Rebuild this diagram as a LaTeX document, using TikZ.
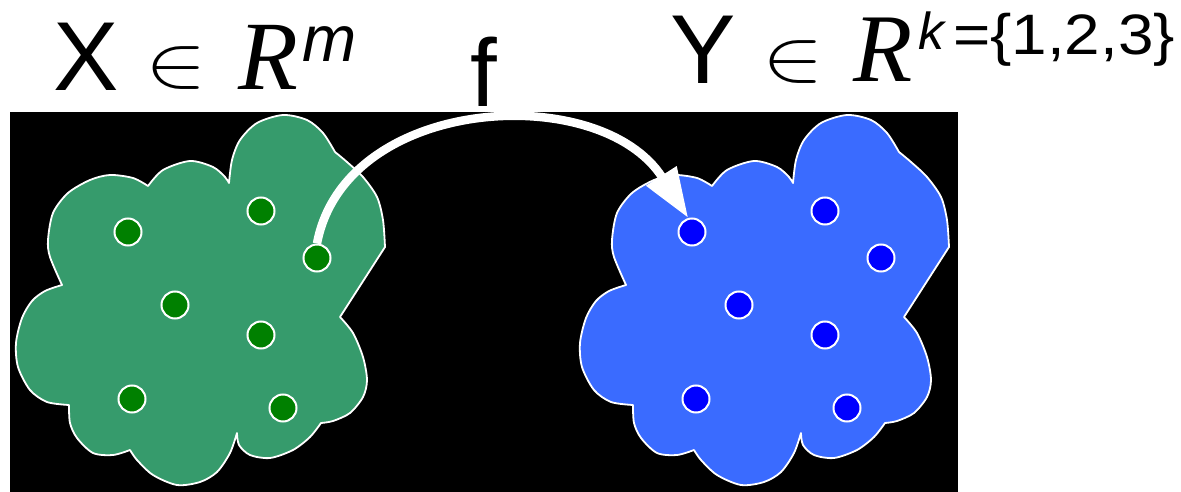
\documentclass[tikz,border=0pt]{standalone}
\usepackage{graphicx}
\usepackage{fontspec}
\setmainfont{Liberation Sans}
\newfontfamily\tnr{Liberation Serif}
\newfontfamily\arialwide[FakeStretch=1.12]{Liberation Sans}
\usetikzlibrary{arrows.meta}
\definecolor{cloudgreen}{HTML}{369B6C}
\definecolor{cloudblue}{HTML}{3A6BFF}
\definecolor{dotgreen}{HTML}{008000}
\definecolor{dotblue}{HTML}{0000FF}
\tikzset{
  lab/.style={inner sep=0pt, outer sep=0pt, text=black},
  cloudshape/.style={draw=white, line width=1.8pt, line join=round},
  gdot/.style={circle, fill=dotgreen, draw=white, line width=2pt, minimum size=27pt, inner sep=0pt},
  bdot/.style={circle, fill=dotblue, draw=white, line width=2pt, minimum size=27pt, inner sep=0pt},
  maparrow/.style={draw=white, line width=8.5pt, -{Triangle[length=50pt,width=34pt]}}
}
\newcommand{\bigelem}{\scalebox{3.7}[2.97]{\Huge$\in$}}
\def\mycloudpath{(229,183)
 -- plot[smooth] coordinates {(229,183) (232,160) (240,140) (257,123) (283,115) (307,120) (323,133) (335,152)}
 -- plot[smooth] coordinates {(335,152) (347,162) (363,177) (377,197) (383,220) (385,247)}
 -- (340,317)
 -- plot[smooth] coordinates {(340,317) (353,333) (363,357) (367,380) (363,397) (350,413) (333,421) (321,423)}
 -- plot[smooth] coordinates {(321,423) (310,437) (293,450) (270,458) (250,455) (239,445) (237,433)}
 -- plot[smooth] coordinates {(237,433) (230,453) (217,472) (200,482) (177,485) (153,475) (137,460) (130,450)}
 -- plot[smooth] coordinates {(130,450) (113,455) (93,453) (77,438) (70,423) (69,405)}
 -- plot[smooth] coordinates {(69,405) (47,402) (30,390) (18,367) (16,343) (22,318) (32,301) (45,291) (62,285)}
 -- plot[smooth] coordinates {(62,285) (50,257) (48,240) (53,213) (68,193) (90,180) (110,175) (133,178) (148,186)}
 -- plot[smooth] coordinates {(148,186) (163,170) (190,161) (213,167) (225,177) (229,183)}
 -- cycle}
\begin{document}
\begin{tikzpicture}[x=1pt,y=-1pt]
\useasboundingbox (0,0) rectangle (1181,492);
\fill[white] (0,0) rectangle (1181,492);
\fill[black] (10,112) rectangle (958,492);
% clouds
\path[cloudshape, fill=cloudgreen] \mycloudpath;
\begin{scope}[shift={(564,0)}]
\path[cloudshape, fill=cloudblue] \mycloudpath;
\end{scope}
% dots
\node[gdot] (g1) at (128,232) {};
\node[gdot] (g2) at (261,211) {};
\node[gdot] (g3) at (317,258) {};
\node[gdot] (g4) at (175,305) {};
\node[gdot] (g5) at (261,335) {};
\node[gdot] (g6) at (132,399) {};
\node[gdot] (g7) at (283,408) {};
\node[bdot] (b1) at (692,232) {};
\node[bdot] (b2) at (825,211) {};
\node[bdot] (b3) at (881,258) {};
\node[bdot] (b4) at (739,305) {};
\node[bdot] (b5) at (825,335) {};
\node[bdot] (b6) at (696,399) {};
\node[bdot] (b7) at (847,408) {};
% mapping arrow
\draw[maparrow] (g3.north) .. controls (345,95) and (600,80) .. (b1.105);
% labels
\node[lab, anchor=base west, font=\fontsize{98}{100}\selectfont] (tx) at (53,91) {X};
\node[lab] (tin1) at (176.5,68.5) {\bigelem};
\node[lab, anchor=base west, font=\tnr\itshape\fontsize{98}{100}\selectfont] (tr1) at (238,90) {R};
\node[lab, anchor=base west, font=\itshape\fontsize{65}{66}\selectfont] (tm) at (302,62) {m};
\node[lab, anchor=base, font=\fontsize{96}{98}\selectfont] (tf) at (484,107) {f};
\node[lab, anchor=base west, font=\fontsize{98}{100}\selectfont] (ty) at (670,84) {Y};
\node[lab] (tin2) at (793.5,62.5) {\bigelem};
\node[lab, anchor=base west, font=\tnr\itshape\fontsize{97}{99}\selectfont] (tr2) at (853,82) {R};
\node[lab, anchor=base west, font=\itshape\fontsize{52}{54}\selectfont] (tk) at (918,50) {k};
\node[lab, anchor=base west, font=\arialwide\fontsize{57}{58}\selectfont] (tset) at (953,55) {=\{1,2,3\}};
\end{tikzpicture}
\end{document}
